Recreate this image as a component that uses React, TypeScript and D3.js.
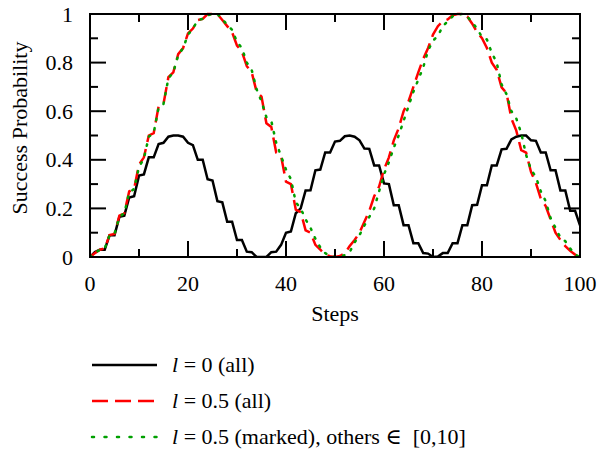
import * as d3 from 'd3';
import React from 'react';

// success probability per step
const steps = d3.range(0, 101);

const lZeroAll = [
  0, 0.02, 0.03, 0.03, 0.09, 0.09, 0.165, 0.17, 0.245, 0.25,
  0.335, 0.34, 0.41, 0.41, 0.465, 0.47, 0.495, 0.5, 0.5, 0.495,
  0.47, 0.46, 0.4, 0.4, 0.32, 0.315, 0.23, 0.225, 0.145, 0.145,
  0.07, 0.07, 0.022, 0.02, 0, 0, 0, 0.02, 0.022, 0.05,
  0.1, 0.105, 0.18, 0.2, 0.274, 0.275, 0.357, 0.36, 0.43, 0.43,
  0.475, 0.478, 0.497, 0.5, 0.495, 0.48, 0.446, 0.445, 0.377, 0.377,
  0.303, 0.3, 0.213, 0.213, 0.131, 0.131, 0.057, 0.057, 0.016, 0.014,
  0, 0.002, 0.016, 0.016, 0.057, 0.057, 0.131, 0.131, 0.213, 0.215,
  0.295, 0.295, 0.377, 0.377, 0.443, 0.445, 0.484, 0.495, 0.5, 0.5,
  0.48, 0.478, 0.43, 0.43, 0.357, 0.357, 0.274, 0.274, 0.19, 0.19,
  0.13,
];

const lHalfAll = [
  0, 0.016, 0.03, 0.035, 0.09, 0.095, 0.17, 0.18, 0.27, 0.28,
  0.38, 0.41, 0.5, 0.51, 0.62, 0.63, 0.74, 0.76, 0.835, 0.86,
  0.92, 0.94, 0.975, 0.98, 1, 1, 1, 0.975, 0.95, 0.925,
  0.87, 0.845, 0.785, 0.76, 0.68, 0.66, 0.55, 0.535, 0.43, 0.415,
  0.31, 0.3, 0.195, 0.185, 0.11, 0.1, 0.05, 0.03, 0.01, 0.003,
  0, 0.004, 0.015, 0.045, 0.07, 0.1, 0.145, 0.19, 0.25, 0.29,
  0.36, 0.41, 0.48, 0.53, 0.6, 0.64, 0.7, 0.76, 0.815, 0.86,
  0.915, 0.95, 0.97, 0.978, 0.995, 1, 1, 0.99, 0.96, 0.925,
  0.9, 0.86, 0.8, 0.77, 0.698, 0.675, 0.57, 0.52, 0.44, 0.43,
  0.35, 0.305, 0.24, 0.21, 0.155, 0.1, 0.07, 0.045, 0.025, 0.01,
  0,
];

const lHalfMarked = [
  0, 0.016, 0.03, 0.035, 0.09, 0.095, 0.165, 0.18, 0.265, 0.28,
  0.37, 0.405, 0.495, 0.51, 0.615, 0.63, 0.735, 0.76, 0.83, 0.86,
  0.915, 0.94, 0.975, 0.98, 0.995, 1, 1, 0.98, 0.955, 0.935,
  0.885, 0.86, 0.8, 0.77, 0.69, 0.64, 0.575, 0.56, 0.47, 0.415,
  0.36, 0.32, 0.225, 0.2, 0.155, 0.12, 0.075, 0.04, 0.016, 0.003,
  0, 0.002, 0.008, 0.02, 0.06, 0.09, 0.13, 0.165, 0.2, 0.27,
  0.34, 0.39, 0.45, 0.5, 0.56, 0.62, 0.68, 0.73, 0.78, 0.85,
  0.89, 0.91, 0.95, 0.97, 0.99, 0.998, 1, 0.99, 0.965, 0.94,
  0.905, 0.895, 0.84, 0.8, 0.71, 0.67, 0.6, 0.57, 0.51, 0.42,
  0.36, 0.33, 0.27, 0.23, 0.16, 0.12, 0.08, 0.065, 0.035, 0.01,
  0,
];

const xTicks = [0, 20, 40, 60, 80, 100];
const xMinor = [10, 30, 50, 70, 90];
const yTicks = [0, 0.2, 0.4, 0.6, 0.8, 1];
const yMinor = [0.1, 0.3, 0.5, 0.7, 0.9];

const series = [
  { name: 'zero', values: lZeroAll, color: '#000000', dash: null, label: ' = 0 (all)' },
  { name: 'half', values: lHalfAll, color: '#ff0000', dash: '16,7', label: ' = 0.5 (all)' },
  { name: 'marked', values: lHalfMarked, color: '#00a000', dash: '1.5,8', label: ' = 0.5 (marked), others \u2208\u00a0 [0,10]' },
];

const W = 598, H = 452;
const margin = { top: 14, right: 18, bottom: 195, left: 90 };

export default function App() {
  const x = d3.scaleLinear().domain([0, 100]).range([margin.left, W - margin.right]);
  const y = d3.scaleLinear().domain([0, 1]).range([H - margin.bottom, margin.top]);
  const [x0, x1] = x.range();
  const [yb, yt] = y.range();

  const line = (vals: number[]) =>
    d3.line<number>()
      .x((d, i) => x(steps[i]))
      .y(d => y(d))(vals) || '';

  const font = '"Liberation Serif", "DejaVu Serif", serif';
  const fs = 22;
  const legendY = [365, 401, 437];

  return (
    <svg width={W} height={H} style={{ position: 'absolute', left: 0, top: 0 }} fontFamily={font}>
      <rect x={0} y={0} width={W} height={H} fill="#fff" />
      <defs>
        <clipPath id="plotclip">
          <rect x={x0} y={yt - 2} width={x1 - x0} height={yb - yt + 3} />
        </clipPath>
      </defs>
      <g clipPath="url(#plotclip)">
        {series.map(s => (
          <path key={s.name} d={line(s.values)} fill="none" stroke={s.color}
            strokeWidth={2.5} strokeDasharray={s.dash || undefined}
            strokeLinecap={s.name === 'marked' ? 'round' : 'butt'} />
        ))}
      </g>

      {/* ticks, mirrored */}
      {xTicks.map(t => (
        <g key={'xt' + t}>
          <line x1={x(t)} x2={x(t)} y1={yb} y2={yb - 16} stroke="#000" strokeWidth={2} />
          <line x1={x(t)} x2={x(t)} y1={yt} y2={yt + 16} stroke="#000" strokeWidth={2} />
          <text x={x(t)} y={yb + 34} textAnchor="middle" fontSize={fs}>{t}</text>
        </g>
      ))}
      {xMinor.map(t => (
        <g key={'xm' + t}>
          <line x1={x(t)} x2={x(t)} y1={yb} y2={yb - 8} stroke="#000" strokeWidth={2} />
          <line x1={x(t)} x2={x(t)} y1={yt} y2={yt + 8} stroke="#000" strokeWidth={2} />
        </g>
      ))}
      {yTicks.map(t => (
        <g key={'yt' + t}>
          <line x1={x0} x2={x0 + 16} y1={y(t)} y2={y(t)} stroke="#000" strokeWidth={2} />
          <line x1={x1} x2={x1 - 16} y1={y(t)} y2={y(t)} stroke="#000" strokeWidth={2} />
          <text x={73} y={y(t) + 7.5} textAnchor="end" fontSize={fs}>{t}</text>
        </g>
      ))}
      {yMinor.map(t => (
        <g key={'ym' + t}>
          <line x1={x0} x2={x0 + 8} y1={y(t)} y2={y(t)} stroke="#000" strokeWidth={2} />
          <line x1={x1} x2={x1 - 8} y1={y(t)} y2={y(t)} stroke="#000" strokeWidth={2} />
        </g>
      ))}
      <rect x={x0} y={yt} width={x1 - x0} height={yb - yt} fill="none" stroke="#000" strokeWidth={2} />

      <text x={(x0 + x1) / 2} y={yb + 64} textAnchor="middle" fontSize={fs}>Steps</text>
      <text transform={`translate(27,128) rotate(-90)`} textAnchor="middle" fontSize={fs}>
        Success Probability
      </text>

      {series.map((s, i) => (
        <g key={'lg' + s.name}>
          <line x1={92} x2={157} y1={legendY[i]} y2={legendY[i]} stroke={s.color}
            strokeWidth={2.5} strokeDasharray={s.name === 'marked' ? '2,10.5' : s.dash || undefined}
            strokeLinecap={s.name === 'marked' ? 'round' : 'butt'} />
          <text x={172} y={legendY[i] + 7} fontSize={fs}>
            <tspan fontStyle="italic">l</tspan>{s.label}
          </text>
        </g>
      ))}
    </svg>
  );
}
